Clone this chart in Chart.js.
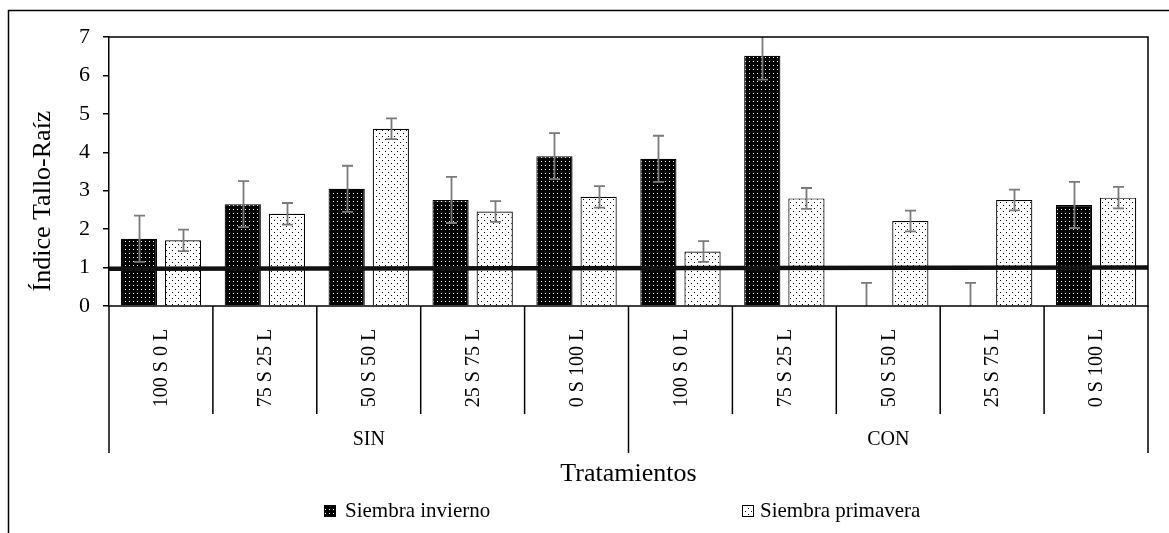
<!DOCTYPE html>
<html><head><meta charset="utf-8">
<script src="https://cdn.jsdelivr.net/npm/chart.js@4/dist/chart.umd.min.js"></script>
<style>html,body{margin:0;padding:0;background:#fff}</style>
</head><body>
<canvas id="c" width="1169" height="533"></canvas>
<script>
const categories = ['100 S 0 L','75 S 25 L','50 S 50 L','25 S 75 L','0 S 100 L','100 S 0 L','75 S 25 L','50 S 50 L','25 S 75 L','0 S 100 L'];
const groups = ['SIN','CON'];
const groupSize = 5;
const seriesNames = ['Siembra invierno','Siembra primavera'];
const winter    = [1.75, 2.65, 3.05, 2.76, 3.90, 3.83, 6.51, 0, 0, 2.63];
const winterErr = [0.60, 0.60, 0.60, 0.60, 0.60, 0.60, 0.62, 0.60, 0.60, 0.60];
const spring    = [1.71, 2.40, 4.61, 2.46, 2.84, 1.42, 2.80, 2.21, 2.76, 2.82];
const springErr = [0.28, 0.28, 0.27, 0.27, 0.28, 0.27, 0.27, 0.27, 0.27, 0.28];
const refLine   = [0.97, 1.0];
const yTicks    = [0, 1, 2, 3, 4, 5, 6, 7];
const xTitle = 'Tratamientos';
const yTitle = 'Índice Tallo-Raíz';

const FONT = "'Liberation Serif','Times New Roman',serif";
const canvas = document.getElementById('c');
const ctx = canvas.getContext('2d');

function makePattern(bg, fg, w, h, dots) {
  const c = document.createElement('canvas'); c.width = w; c.height = h;
  const x = c.getContext('2d');
  x.fillStyle = bg; x.fillRect(0, 0, w, h);
  x.fillStyle = fg; dots.forEach(([a, b]) => x.fillRect(a, b, 1, 1));
  return ctx.createPattern(c, 'repeat');
}
const darkPat = makePattern('#000', '#fff', 4, 4, [[1, 1]]);
const lightPat = makePattern('#fff', '#000', 6, 6, [[1, 1], [4, 4]]);

const deco = {
  id: 'deco',
  beforeDraw(chart) {
    const c = chart.ctx; c.save(); c.fillStyle = '#fff'; c.fillRect(0, 0, chart.width, chart.height); c.restore();
  },
  afterDatasetsDraw(chart) {
    const c = chart.ctx, a = chart.chartArea, y = chart.scales.y;
    c.save();
    // reference line
    c.strokeStyle = '#111'; c.lineWidth = 4.5;
    c.beginPath(); c.moveTo(a.left, y.getPixelForValue(refLine[0])); c.lineTo(a.right, y.getPixelForValue(refLine[1])); c.stroke();
    // error bars
    c.beginPath(); c.rect(a.left, a.top, a.right - a.left, a.bottom - a.top); c.clip();
    c.strokeStyle = '#7a7a7a'; c.lineWidth = 1.8;
    [[winter, winterErr], [spring, springErr]].forEach(([vals, errs], di) => {
      chart.getDatasetMeta(di).data.forEach((bar, i) => {
        const cx = Math.round(bar.x) + 0.5;
        const t = y.getPixelForValue(vals[i] + errs[i]);
        const lo = Math.max(0, vals[i] - errs[i]);
        const b = y.getPixelForValue(lo);
        c.beginPath(); c.moveTo(cx, t); c.lineTo(cx, b);
        c.moveTo(cx - 5.5, t); c.lineTo(cx + 5.5, t);
        if (vals[i] - errs[i] > 0) { c.moveTo(cx - 5.5, b); c.lineTo(cx + 5.5, b); }
        c.stroke();
      });
    });
    c.restore();
    // plot box
    c.save(); c.strokeStyle = '#000'; c.lineWidth = 1.5;
    c.beginPath();
    c.moveTo(a.left, a.top); c.lineTo(a.right, a.top); c.lineTo(a.right, a.bottom); c.lineTo(a.left, a.bottom);
    c.stroke(); c.restore();
  },
  afterDraw(chart) {
    const c = chart.ctx, a = chart.chartArea, x = chart.scales.x;
    c.save();
    c.fillStyle = '#000'; c.strokeStyle = '#000';
    // category separators
    const n = categories.length;
    const bounds = [];
    for (let k = 0; k <= n; k++) {
      if (k === 0) bounds.push(a.left);
      else if (k === n) bounds.push(a.right);
      else bounds.push((x.getPixelForValue(k - 1) + x.getPixelForValue(k)) / 2);
    }
    c.lineWidth = 1.5;
    bounds.forEach((bx, k) => {
      const yEnd = (k % groupSize === 0) ? 453 : 414;
      c.beginPath(); c.moveTo(bx, a.bottom); c.lineTo(bx, yEnd); c.stroke();
    });
    // category labels (rotated)
    c.font = `20px ${FONT}`; c.textAlign = 'center'; c.textBaseline = 'middle';
    categories.forEach((lab, i) => {
      c.save(); c.translate(x.getPixelForValue(i) + 1, 368); c.rotate(-Math.PI / 2); c.fillText(lab, 0, 0); c.restore();
    });
    // group labels
    groups.forEach((g, gi) => {
      const cx = (bounds[gi * groupSize] + bounds[(gi + 1) * groupSize]) / 2;
      c.fillText(g, cx, 440);
    });
    // axis titles
    c.font = `26px ${FONT}`;
    c.fillText(xTitle, (a.left + a.right) / 2, 474);
    c.save(); c.translate(50, 201); c.rotate(-Math.PI / 2); c.textBaseline = 'alphabetic'; c.fillText(yTitle, 0, 0); c.restore();
    // legend
    c.font = `21px ${FONT}`; c.textAlign = 'left'; c.textBaseline = 'middle';
    const items = [[324, 345, darkPat], [742, 760, lightPat]];
    seriesNames.forEach((s, i) => {
      const [bx, tx, pat] = items[i];
      c.fillStyle = pat; c.fillRect(bx, 505, 12, 12);
      c.lineWidth = 1; c.strokeStyle = '#000'; c.strokeRect(bx + 0.5, 505.5, 11, 11);
      c.fillStyle = '#000'; c.fillText(s, tx, 511);
    });
    // outer frame
    c.lineWidth = 1.5; c.strokeStyle = '#000';
    c.strokeRect(8.5, 10.5, 1400, 800);
    c.restore();
  }
};

new Chart(ctx, {
  type: 'bar',
  data: {
    labels: categories,
    datasets: [
      { label: seriesNames[0], data: winter, backgroundColor: darkPat, borderColor: '#000', borderWidth: 1.2 },
      { label: seriesNames[1], data: spring, backgroundColor: lightPat, borderColor: '#000', borderWidth: 1.2 }
    ]
  },
  options: {
    responsive: false, animation: false,
    layout: { padding: { left: 49, top: 37, right: 21, bottom: 227 } },
    categoryPercentage: 0.85, barPercentage: 0.82,
    plugins: { legend: { display: false }, tooltip: { enabled: false } },
    scales: {
      x: { display: false },
      y: {
        min: 0, max: 7,
        afterBuildTicks: s => { s.ticks = yTicks.map(v => ({ value: v })); },
        afterFit: s => { s.width = 60; },
        ticks: { color: '#000', font: { family: FONT, size: 22 }, padding: 13 },
        grid: { drawOnChartArea: false, tickLength: 6, color: '#000', lineWidth: 1.5 },
        border: { color: '#000', width: 1.5 }
      }
    }
  },
  plugins: [deco]
});
</script>
</body></html>
